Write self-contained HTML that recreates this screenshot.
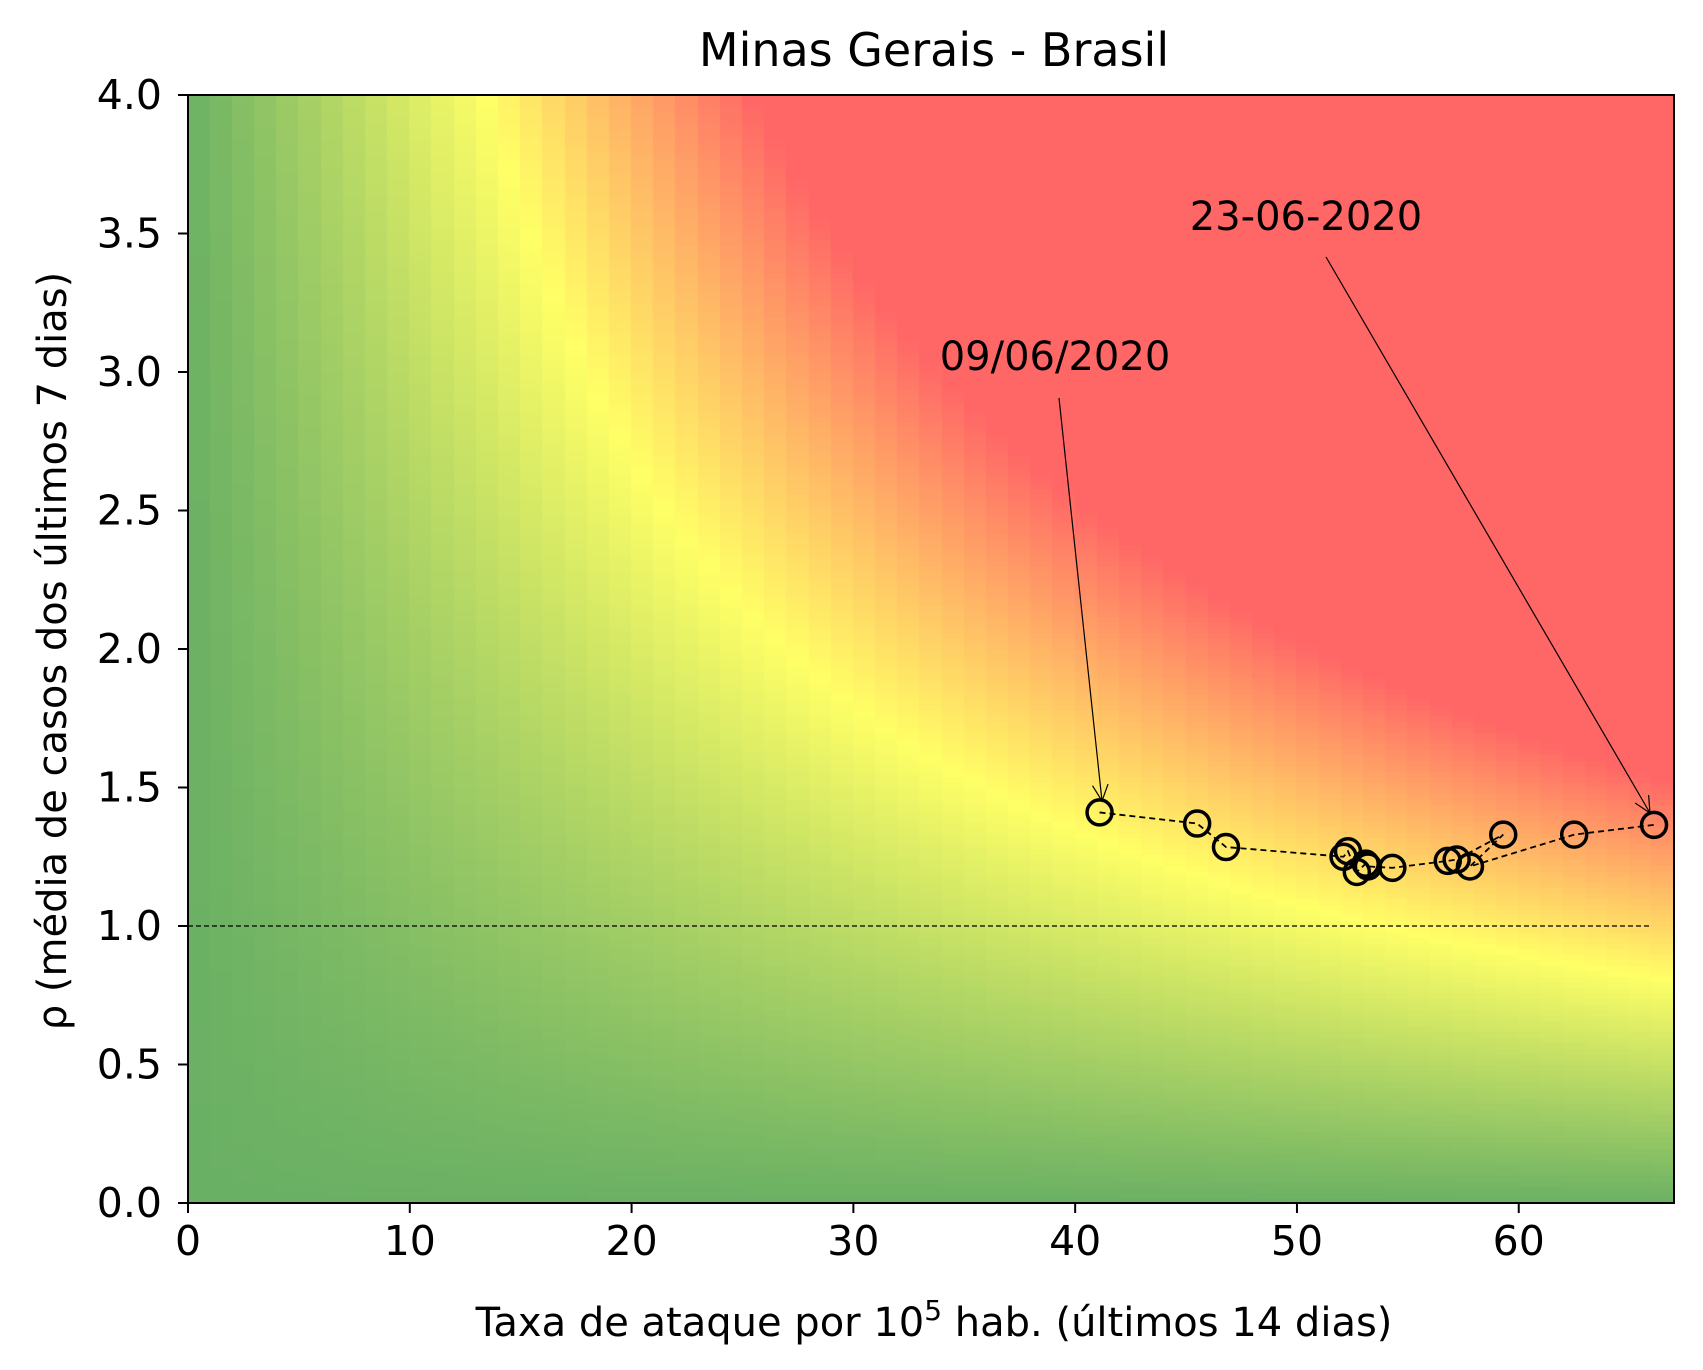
<!DOCTYPE html>
<html><head><meta charset="utf-8"><style>
body{margin:0;background:#fff;width:1703px;height:1370px;overflow:hidden;position:relative;font-family:"DejaVu Sans","Liberation Sans",sans-serif}
canvas{position:absolute;left:188px;top:95px}
svg{position:absolute;left:0;top:0}
</style></head><body>
<canvas id="hm" width="1486" height="1108"></canvas>
<svg id="s" width="1703" height="1370"></svg>
<script>
const xs=[41.1,45.5,46.8,52.1,52.3,52.7,53.1,53.2,54.3,56.8,57.2,59.3,57.8,62.5,66.1];
const ys=[1.41,1.37,1.285,1.25,1.27,1.195,1.225,1.215,1.21,1.235,1.24,1.33,1.215,1.33,1.365];
const xTicks=[0,10,20,30,40,50,60];
const yTicks=[0,0.5,1,1.5,2,2.5,3,3.5,4];
const L=188,R=1674,T=95,B=1203,XMAX=67,YMAX=4;
const X=v=>L+v/XMAX*(R-L), Y=v=>B-v/YMAX*(B-T);
const c=document.getElementById('hm').getContext('2d');
function col(p){const g=[106,176,100],yl=[255,255,102],r=[255,102,102];let a,b,t;
 if(p<54){a=g;b=yl;t=p/54}else{a=yl;b=r;t=Math.min(1,(p-54)/48)}
 return `rgb(${a.map((v,i)=>Math.round(v+(b[i]-v)*t)).join(',')})`;}
for(let i=0;i<XMAX;i++){for(let j=0;j<200;j++){const xv=i+0.5,yv=(j+0.5)*YMAX/200;
 c.fillStyle=col(xv*yv);const x0=X(i)-L,x1=X(i+1)-L,y0=Y((j+1)*YMAX/200)-T,y1=Y(j*YMAX/200)-T;
 c.fillRect(Math.floor(x0),Math.floor(y0),Math.ceil(x1-x0)+1,Math.ceil(y1-y0)+1);}}
const s=document.getElementById('s');const NS='http://www.w3.org/2000/svg';
function el(t,a,txt){const e=document.createElementNS(NS,t);for(const k in a)e.setAttribute(k,a[k]);if(txt!=null)e.textContent=txt;s.appendChild(e);return e;}
let e;
e=el('line',{x1:X(0),y1:Y(1),x2:X(66),y2:Y(1),stroke:'#000','stroke-width':1.3,'stroke-dasharray':'5,3'});


e=el('polyline',{points:xs.map((v,i)=>X(v)+','+Y(ys[i])).join(' '),fill:'none',stroke:'#000','stroke-width':1.8,'stroke-dasharray':'6,4'});


xs.forEach((v,i)=>{const p=el('circle',{cx:X(v),cy:Y(ys[i]),r:12.5,fill:'none',stroke:'#000','stroke-width':3.5});

});
e=el('rect',{x:L,y:T,width:R-L,height:B-T,fill:'none',stroke:'#000','stroke-width':2});


xTicks.forEach(v=>{el('line',{x1:X(v),y1:B,x2:X(v),y2:B+10,stroke:'#000','stroke-width':2});
const t=el('text',{x:X(v),y:B+52,'text-anchor':'middle','font-size':41},v);

});
yTicks.forEach(v=>{el('line',{x1:L-10,y1:Y(v),x2:L,y2:Y(v),stroke:'#000','stroke-width':2});
const t=el('text',{x:L-26,y:Y(v)+14,'text-anchor':'end','font-size':41},v.toFixed(1));

});
const arrow=(x1,y1,x2,y2)=>{el('line',{x1,y1,x2,y2,stroke:'#000','stroke-width':1.2});
const a=Math.atan2(y2-y1,x2-x1),l=18,w=0.45;
el('polyline',{points:`${x2-l*Math.cos(a-w)},${y2-l*Math.sin(a-w)} ${x2},${y2} ${x2-l*Math.cos(a+w)},${y2-l*Math.sin(a+w)}`,fill:'none',stroke:'#000','stroke-width':1.2});};
arrow(1059,398,1102,801);arrow(1326,257,1650,813);
</script>
<svg width="1703" height="1370" style="position:absolute;left:0;top:0">
<text x="934" y="66" text-anchor="middle" font-size="46">Minas Gerais - Brasil</text>
<text x="934" y="1336" text-anchor="middle" font-size="40">Taxa de ataque por 10<tspan dy="-16" font-size="28">5</tspan><tspan dy="16"> hab. (últimos 14 dias)</tspan></text>
<text transform="translate(66,651) rotate(-90)" text-anchor="middle" font-size="40">ρ (média de casos dos últimos 7 dias)</text>
<text x="1055" y="370" text-anchor="middle" font-size="40">09/06/2020</text>
<text x="1306" y="230" text-anchor="middle" font-size="40">23-06-2020</text>
</svg>
</body></html>
